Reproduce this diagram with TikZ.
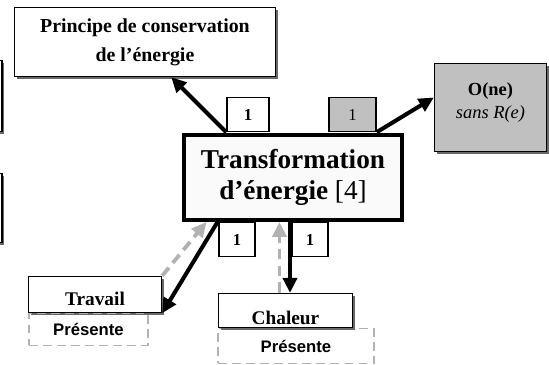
\documentclass[tikz,border=0pt]{standalone}
\usepackage{fontspec}
\setmainfont{Liberation Serif}
\newfontfamily\arialfont{Liberation Sans}
\usepackage{tikz}
\usetikzlibrary{calc,arrows.meta,shadows}
\definecolor{BoxGray}{RGB}{192,192,192}
\definecolor{DashGray}{RGB}{178,178,178}
\definecolor{ShadowGray}{RGB}{105,105,105}

\begin{document}
\begin{tikzpicture}[x=0.02cm, y=-0.02cm, >={Triangle[length=8.5pt,width=8pt]},
  box/.style={draw, line width=0.8pt, fill=white, align=center, inner sep=1pt},
  shbox/.style={box, drop shadow={shadow xshift=1.3pt, shadow yshift=-1.3pt, fill=ShadowGray, opacity=1}},
  numbox/.style={box, minimum height=0.68cm, font=\fontsize{9.5}{11}\selectfont\bfseries},
  present/.style={draw=DashGray, line width=1pt, dash pattern=on 5pt off 3pt, inner sep=1pt,
                  font=\arialfont\fontsize{9.5}{11}\selectfont\bfseries},
  sig/.style={->, line width=2.3pt},
  back/.style={->, line width=2.2pt, draw=DashGray, dash pattern=on 6pt off 3.5pt}]

  \clip (0,0) rectangle (549,365);

  % --- cut-off boxes on the left edge ---
  \node[shbox, minimum width=1.32cm, minimum height=1.42cm] (lbox1) at (-31,96) {};
  \node[shbox, minimum width=1.32cm, minimum height=1.38cm] (lbox2) at (-31,208) {};

  % --- main block and the boxes around it ---
  \node[shbox, minimum width=5.22cm, minimum height=1.38cm,
        font=\fontsize{11.3}{16.5}\selectfont\bfseries] (princ) at (145,42)
        {Principe de conservation\\de l’énergie};
  \node[draw, line width=2.3pt, fill=black!2, align=center, minimum width=4.36cm, minimum height=1.7cm,
        font=\fontsize{15.5}{18}\selectfont\bfseries] (main) at (293,177.5)
        {Transformation\\d’énergie {\mdseries [4]}};
  \node[shbox, fill=BoxGray, minimum width=2.24cm, minimum height=1.76cm, text depth=8pt,
        font=\fontsize{10.5}{13}\selectfont] (one) at (490.5,107.5)
        {\textbf{O(ne)}\\\textit{sans R(e)}};

  \node[numbox, minimum width=0.84cm] (tl1) at (248,114.5) {1};
  \node[numbox, minimum width=0.94cm, fill=BoxGray, font=\fontsize{9.5}{11}\selectfont] (tr1) at (352.5,114.5) {1};
  \node[numbox, minimum width=0.72cm] (bl1) at (237,239.5) {1};
  \node[numbox, minimum width=0.72cm] (br1) at (310,239.5) {1};

  % --- Travail / Chaleur ---
  \node[shbox, minimum width=2.66cm, minimum height=0.72cm, text height=13pt,
        font=\fontsize{11}{13}\selectfont\bfseries] (travail) at (95,294.5) {Travail};
  \node[present, minimum width=2.38cm, minimum height=0.64cm] (pres1) at (88.5,329.5) {Présente};
  \node[present, minimum width=3.12cm, minimum height=0.7cm] (pres2) at (296,346) {Présente};
  \node[shbox, minimum width=2.68cm, minimum height=0.68cm, text height=16pt,
        font=\fontsize{11}{13}\selectfont\bfseries] (chaleur) at (285.5,310.5) {Chaleur};

  % --- connectors ---
  \draw[sig] (tl1.south west) -- ($(princ.south west)!0.6!(princ.south east)$);
  \draw[sig] (tr1.south east) -- (one.170);
  \draw[back] (travail.north east) -- ($(main.south west)!0.11!(main.south east)$);
  \draw[sig] ($(main.south west)!0.16!(main.south east)$) -- (travail.south east);
  \coordinate (cup) at ($(chaleur.north)+(-6,0)$);
  \coordinate (cdown) at ($(main.south)+(-3,0)$);
  \draw[back] (cup) -- (cup |- main.south);
  \draw[sig] (cdown) -- (cdown |- chaleur.north);
\end{tikzpicture}
\end{document}
